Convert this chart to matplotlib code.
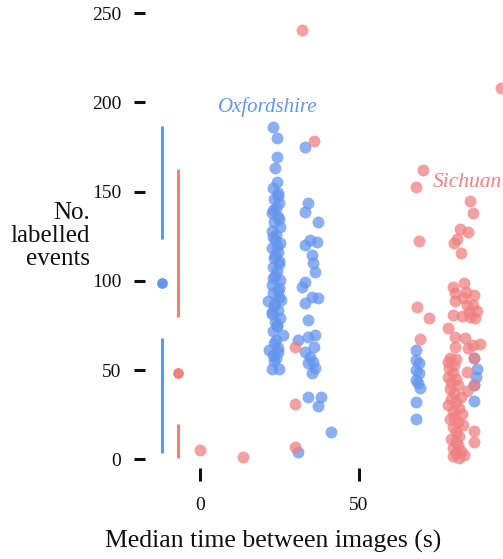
import matplotlib
matplotlib.use("Agg")
import matplotlib.pyplot as plt

# ---------------- data ----------------
oxford_x = [
    23.0, 24.1, 24.1, 23.6, 24.3, 23.0, 24.5, 23.2, 25.0, 23.8, 22.6, 24.6, 23.4, 25.1,
    22.8, 24.0, 23.5, 25.2, 22.7, 24.4, 23.3, 25.0, 22.9, 24.2, 23.7, 25.3, 22.5, 24.8,
    23.1, 24.9, 21.5, 25.5, 23.4, 24.6, 22.8, 25.1, 23.6, 24.2, 22.9, 26.2, 24.0, 23.2,
    21.8, 24.5, 23.0, 24.0, 22.6, 25.0, 23.3, 24.4,
    24.6, 23.1, 24.8, 22.9, 24.2, 23.5, 24.9, 23.0, 24.4, 23.7, 22.7, 24.1,
    33.0, 34.1, 33.0, 37.0, 34.6, 36.7, 33.0, 35.1, 35.6, 36.2, 33.0, 32.0, 35.1, 37.0,
    33.0, 34.1, 34.1, 36.2, 30.9, 35.9, 33.0, 34.6, 35.6, 34.1, 36.2, 35.1, 34.1, 38.1,
    37.0, 41.2, 30.9,
    67.9, 67.9, 69.0, 67.9, 68.8, 67.9, 68.5, 69.2, 67.9, 67.9,
    86.2, 87.2, 86.9, 86.2, 86.2,
]
oxford_y = [
    186.3, 180.1, 169.5, 163.3, 155.5, 152.1, 149.0, 146.0, 143.5, 141.0, 138.0, 136.0, 133.0, 130.5,
    128.0, 126.0, 123.0, 121.0, 118.5, 116.0, 113.0, 111.0, 108.0, 105.5, 103.0, 100.5, 98.0, 96.0,
    93.5, 91.0, 88.8, 89.5, 86.0, 84.0, 81.5, 79.0, 77.0, 74.5, 72.0, 69.5, 67.0, 65.0,
    61.3, 62.5, 58.5, 57.0, 50.5, 50.5, 55.0, 60.0,
    147.5, 139.5, 134.5, 124.5, 119.5, 114.5, 109.5, 101.5, 94.5, 87.5, 82.5, 75.5,
    175.2, 143.5, 138.8, 133.2, 123.0, 122.0, 120.2, 114.6, 109.9, 105.2, 99.6, 96.8, 91.2, 90.3,
    87.5, 78.2, 68.8, 69.7, 66.9, 63.2, 60.4, 57.6, 54.8, 53.9, 51.3, 48.3, 34.8, 35.2,
    30.1, 15.2, 4.0,
    61.3, 55.7, 54.0, 50.1, 48.5, 44.6, 42.9, 40.1, 32.2, 22.7,
    56.6, 50.7, 46.4, 41.7, 32.8,
]

sichuan_x = [
    32.0, 35.9, 29.9, 29.9, 29.9, 0.0, 13.6, 94.7,
    70.0, 67.9, 84.9, 85.9, 81.8, 84.2, 80.9, 79.9, 69.0, 82.0,
    83.0, 79.7, 80.2, 83.6, 86.2, 82.8, 85.9, 83.9, 87.2, 84.5, 80.2, 79.7, 82.5, 68.1,
    72.1, 84.8, 86.5, 78.1, 69.2, 80.2, 83.3, 88.1, 80.2, 84.4, 86.0,
    78.5, 80.5, 78.0, 80.0, 86.2, 83.9, 78.2, 79.5, 78.0, 80.5, 79.0, 81.0, 86.2, 83.9,
    78.5, 80.0, 82.0, 79.0, 80.5, 78.0, 81.5, 79.5, 82.5, 80.0, 78.5, 81.0, 82.8, 86.2,
    79.5, 80.5, 81.5, 79.0, 80.5, 86.2, 81.0, 79.5, 82.0, 80.5, 79.5, 81.5, 83.0,
]
sichuan_y = [
    240.6, 178.4, 63.2, 31.1, 7.2, 5.3, 1.2, 208.0,
    162.2, 152.5, 145.0, 138.3, 129.1, 127.3, 123.4, 121.1, 122.4, 115.5,
    98.7, 96.5, 93.1, 94.0, 92.2, 90.3, 86.6, 86.6, 83.4, 82.5, 88.5, 81.0, 80.5, 85.6,
    79.1, 79.8, 79.5, 73.5, 67.5, 68.8, 67.9, 64.5, 63.2, 62.3, 64.0,
    57.0, 56.5, 54.5, 53.0, 57.0, 49.2, 51.0, 48.5, 46.0, 45.0, 43.0, 41.5, 41.7, 38.4,
    39.5, 37.5, 35.0, 34.0, 32.0, 30.5, 29.0, 27.0, 25.5, 24.0, 22.5, 21.0, 19.3, 16.0,
    18.0, 15.5, 13.0, 11.5, 10.0, 9.6, 8.0, 6.5, 5.0, 3.5, 2.0, 1.0, 2.5,
]

# Tufte-style box summaries: [min, q1, median, q3, max]
oxford_summary = [3.5, 67.9, 99.0, 123.5, 186.8]
sichuan_summary = [0.7, 19.9, 48.5, 79.7, 162.7]
summary_x = {"Oxfordshire": -12.0, "Sichuan": -7.0}

x_ticks = [0, 50]
y_ticks = [0, 50, 100, 150, 200, 250]

# ---------------- style ----------------
BLUE = "#6495ED"
PINK = "#F08080"
FONT = ["Liberation Serif", "DejaVu Serif"]
plt.rcParams["font.family"] = FONT

fig = plt.figure(figsize=(5.03, 5.59), dpi=100)
ax = fig.add_axes([145 / 503, (559 - 468) / 559, 1 - 145 / 503, (468 - 4.3) / 559])

ax.scatter(oxford_x, oxford_y, s=74, color=BLUE, alpha=0.75, linewidths=0, zorder=2, clip_on=False)
ax.scatter(sichuan_x, sichuan_y, s=74, color=PINK, alpha=0.75, linewidths=0, zorder=3, clip_on=False)

for summ, xpos, col in [(oxford_summary, summary_x["Oxfordshire"], BLUE),
                        (sichuan_summary, summary_x["Sichuan"], PINK)]:
    mn, q1, med, q3, mx = summ
    ax.plot([xpos, xpos], [mn, q1], color=col, lw=2.2, solid_capstyle="butt", zorder=4)
    ax.plot([xpos, xpos], [q3, mx], color=col, lw=2.2, solid_capstyle="butt", zorder=4)
    ax.scatter([xpos], [med], s=60, color=col, linewidths=0, zorder=5)

ax.set_xlim(-17.3, 95.3)
ax.set_ylim(-4.8, 255.0)
ax.set_xticks(x_ticks)
ax.set_yticks(y_ticks)
ax.set_xticklabels([str(v) for v in x_ticks])
ax.set_yticklabels([str(v) for v in y_ticks])
for sp in ax.spines.values():
    sp.set_visible(False)
ax.tick_params(axis="y", length=8, width=2.2, pad=9, labelsize=14, colors="#111111")
ax.tick_params(axis="x", length=9, width=2.2, pad=12, labelsize=14, colors="#111111")

ax.text(21.4, 197.5, "Oxfordshire", color=BLUE, fontsize=15, style="italic",
        ha="center", va="center")
ax.text(73.3, 154.9, "Sichuan", color=PINK, fontsize=15.5, style="italic",
        ha="left", va="center", clip_on=False)

fig.text(90 / 503, 1 - 236 / 559, "No.\nlabelled\nevents", ha="right", va="center",
         multialignment="right", fontsize=18, linespacing=1.05, color="#111111")
fig.text(273.5 / 503, 1 - 541 / 559, "Median time between images (s)", ha="center",
         va="center", fontsize=18.5, color="#111111")

fig.savefig("out.png", dpi=100)
